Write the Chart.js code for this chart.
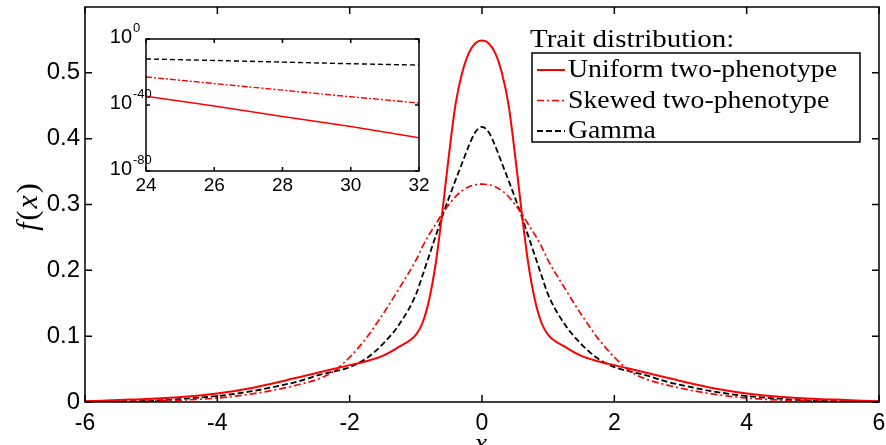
<!DOCTYPE html>
<html lang="en">
<head>
    <meta charset="UTF-8">
    <title>Trait distribution</title>
    <script src="https://cdn.jsdelivr.net/npm/chart.js"></script>
    <style>
        body {
            margin: 0;
            background: #fff;
        }

        .wrap {
            position: relative;
            width: 886px;
            height: 445px;
            overflow: hidden;
        }

        #inset {
            position: absolute;
            left: 95px;
            top: 15px;
        }
    </style>
</head>
<body>
    <div class="wrap">
        <canvas id="chart" width="886" height="445"></canvas>
        <canvas id="inset" width="335" height="185"></canvas>
    </div>

    <script>
        // main panel data
        const xValues = [-6, -5.5, -5, -4.5, -4, -3.5, -3, -2.75, -2.5, -2.25, -2, -1.75, -1.5, -1.25, -1,
            -0.9, -0.8, -0.7, -0.6, -0.5, -0.4, -0.3, -0.2, -0.1, 0,
            0.1, 0.2, 0.3, 0.4, 0.5, 0.6, 0.7, 0.8, 0.9,
            1, 1.25, 1.5, 1.75, 2, 2.25, 2.5, 2.75, 3, 3.5, 4, 4.5, 5, 5.5, 6];

        const uniformTwo = [0.001, 0.003, 0.005, 0.008, 0.013, 0.021, 0.032, 0.038, 0.044, 0.05, 0.056, 0.062, 0.07, 0.084, 0.102,
            0.12, 0.155, 0.21, 0.288, 0.375, 0.452, 0.5, 0.53, 0.545, 0.549,
            0.545, 0.53, 0.5, 0.452, 0.375, 0.288, 0.21, 0.155, 0.12,
            0.102, 0.084, 0.07, 0.062, 0.056, 0.05, 0.044, 0.038, 0.032, 0.021, 0.013, 0.008, 0.005, 0.003, 0.001];

        const skewedTwo = [0.0003, 0.0007, 0.0015, 0.003, 0.006, 0.012, 0.021, 0.027, 0.034, 0.046, 0.068, 0.097, 0.133, 0.173, 0.215,
            0.236, 0.254, 0.27, 0.286, 0.3, 0.312, 0.321, 0.327, 0.33, 0.331,
            0.33, 0.327, 0.321, 0.312, 0.3, 0.286, 0.27, 0.254, 0.236,
            0.215, 0.173, 0.133, 0.097, 0.068, 0.046, 0.034, 0.027, 0.021, 0.012, 0.006, 0.003, 0.0015, 0.0007, 0.0003];

        const gammaDist = [0.0005, 0.001, 0.002, 0.005, 0.009, 0.016, 0.026, 0.032, 0.04, 0.046, 0.053, 0.066, 0.088, 0.118, 0.163,
            0.192, 0.222, 0.252, 0.282, 0.31, 0.337, 0.363, 0.389, 0.41, 0.418,
            0.41, 0.389, 0.363, 0.337, 0.31, 0.282, 0.252, 0.222, 0.192,
            0.163, 0.118, 0.088, 0.066, 0.053, 0.046, 0.04, 0.032, 0.026, 0.016, 0.009, 0.005, 0.002, 0.001, 0.0005];

        const xTicks = [-6, -4, -2, 0, 2, 4, 6];
        const yTicks = [0, 0.1, 0.2, 0.3, 0.4, 0.5];

        // inset (tail, log scale)
        const insetX = [24, 26, 28, 30, 32];
        const insetUniform = [2e-35, 2.5e-41, 1e-47, 1e-53, 1.6e-60];
        const insetSkewed = [1e-23, 1e-27, 1e-31, 1e-35, 1.6e-39];
        const insetGamma = [8e-13, 1e-13, 1e-14, 1e-15, 1.6e-16];
        const insetXTicks = [24, 26, 28, 30, 32];
        const insetYExp = [0, -40, -80];

        const labels = ["Uniform two-phenotype", "Skewed two-phenotype", "Gamma"];
        const legendTitle = "Trait distribution:";

        const sansFont = "'Liberation Sans', Arial, sans-serif";
        const serifFont = "'Liberation Serif', 'Times New Roman', serif";

        function points(xs, ys) {
            return xs.map((x, i) => ({ x: x, y: ys[i] }));
        }

        // the latex font is wider than Times, so stretch text a bit
        function wideText(c, text, x, y, k) {
            c.save();
            c.translate(x, y);
            c.scale(k, 1);
            c.fillText(text, 0, 0);
            c.restore();
        }

        // box around the plot area plus inward ticks on all four sides
        function framePlugin(tickLen) {
            return {
                id: "frame",
                afterDatasetsDraw(chart) {
                    const c = chart.ctx;
                    const a = chart.chartArea;
                    c.save();
                    c.strokeStyle = "#000";
                    c.lineWidth = 1.5;
                    c.strokeRect(a.left, a.top, a.right - a.left, a.bottom - a.top);
                    c.beginPath();
                    chart.scales.x.ticks.forEach(t => {
                        const px = chart.scales.x.getPixelForValue(t.value);
                        c.moveTo(px, a.bottom); c.lineTo(px, a.bottom - tickLen);
                        c.moveTo(px, a.top); c.lineTo(px, a.top + tickLen);
                    });
                    chart.scales.y.ticks.forEach(t => {
                        const py = chart.scales.y.getPixelForValue(t.value);
                        c.moveTo(a.left, py); c.lineTo(a.left + tickLen, py);
                        c.moveTo(a.right, py); c.lineTo(a.right - tickLen, py);
                    });
                    c.stroke();
                    c.restore();
                }
            };
        }

        const legendPlugin = {
            id: "boxLegend",
            afterDraw(chart) {
                const c = chart.ctx;
                c.save();
                c.fillStyle = "#000";
                c.font = "25px " + serifFont;
                c.textBaseline = "alphabetic";
                wideText(c, legendTitle, 530, 47, 1.16);
                c.fillStyle = "#fff";
                c.fillRect(532, 53, 328, 89);
                c.strokeStyle = "#000";
                c.lineWidth = 1.5;
                c.strokeRect(532, 53, 328, 89);
                chart.data.datasets.forEach((ds, i) => {
                    const base = 77 + i * 30.5;
                    c.strokeStyle = ds.borderColor;
                    c.lineWidth = ds.borderWidth;
                    c.setLineDash(ds.borderDash || []);
                    c.beginPath();
                    c.moveTo(537, base - 7);
                    c.lineTo(565, base - 7);
                    c.stroke();
                    c.setLineDash([]);
                    c.fillStyle = "#000";
                    wideText(c, ds.label, 568, base, 1.11);
                });
                c.restore();
            }
        };

        const axisTitlePlugin = {
            id: "axisTitles",
            afterDraw(chart) {
                const c = chart.ctx;
                const parts = [["f", true], ["(", false], ["x", true], [")", false]];
                const gap = 2;
                c.save();
                c.fillStyle = "#000";
                c.textBaseline = "alphabetic";
                let total = 0;
                parts.forEach(p => {
                    c.font = (p[1] ? "italic " : "") + "30px " + serifFont;
                    p.push(c.measureText(p[0]).width);
                    total += p[2] + gap;
                });
                c.translate(37, 206);
                c.rotate(-Math.PI / 2);
                let cx = -total / 2;
                parts.forEach(p => {
                    c.font = (p[1] ? "italic " : "") + "30px " + serifFont;
                    c.fillText(p[0], cx, 0);
                    cx += p[2] + gap;
                });
                c.restore();

                c.save();
                c.fillStyle = "#000";
                c.font = "italic 28px " + serifFont;
                c.textAlign = "center";
                c.textBaseline = "alphabetic";
                c.fillText("x", 481, 452);
                c.restore();
            }
        };

        const mainCtx = document.getElementById("chart").getContext("2d");
        const chart = new Chart(mainCtx, {
            type: "line",
            data: {
                datasets: [
                    {
                        label: labels[0],
                        data: points(xValues, uniformTwo),
                        borderColor: "#ff0000",
                        borderWidth: 2,
                        cubicInterpolationMode: "monotone",
                    },
                    {
                        label: labels[1],
                        data: points(xValues, skewedTwo),
                        borderColor: "#ff0000",
                        borderWidth: 1.7,
                        borderDash: [7, 3, 2, 3],
                        cubicInterpolationMode: "monotone",
                    },
                    {
                        label: labels[2],
                        data: points(xValues, gammaDist),
                        borderColor: "#000000",
                        borderWidth: 1.8,
                        borderDash: [6, 3],
                        cubicInterpolationMode: "monotone",
                    },
                ],
            },
            options: {
                responsive: false,
                animation: false,
                layout: { padding: { top: 7, right: 7, left: 0, bottom: 0 } },
                elements: { point: { radius: 0 } },
                plugins: {
                    legend: { display: false },
                    tooltip: { enabled: false },
                },
                scales: {
                    x: {
                        type: "linear",
                        min: -6,
                        max: 6,
                        grid: { display: false, drawTicks: false },
                        border: { display: false },
                        afterBuildTicks: s => { s.ticks = xTicks.map(v => ({ value: v })); },
                        ticks: {
                            color: "#000",
                            padding: 8,
                            maxRotation: 0,
                            font: { family: sansFont, size: 23 },
                            callback: v => String(v),
                        },
                        afterFit: s => {
                            s.height = 43;
                            s.paddingLeft = 0; s.paddingRight = 0;
                        },
                    },
                    y: {
                        min: 0,
                        max: 0.6,
                        grid: { display: false, drawTicks: false },
                        border: { display: false },
                        afterBuildTicks: s => { s.ticks = yTicks.map(v => ({ value: v })); },
                        ticks: {
                            color: "#000",
                            padding: 5,
                            font: { family: sansFont, size: 24 },
                            callback: v => (v === 0 ? "0" : v.toFixed(1)),
                        },
                        afterFit: s => {
                            s.width = 85;
                            s.paddingTop = 0; s.paddingBottom = 0;
                        },
                    },
                },
            },
            plugins: [framePlugin(7), legendPlugin, axisTitlePlugin],
        });

        // inset: powers of ten drawn with raised exponents
        const insetLabelPlugin = {
            id: "insetLabels",
            afterDraw(ch) {
                const c = ch.ctx;
                const a = ch.chartArea;
                c.save();
                c.fillStyle = "#000";
                c.textBaseline = "middle";
                insetYExp.forEach(e => {
                    const py = ch.scales.y.getPixelForValue(Math.pow(10, e));
                    c.font = "20px " + sansFont;
                    c.textAlign = "right";
                    c.fillText("10", a.left - 14, py - 2);
                    c.font = "13px " + sansFont;
                    c.textAlign = "left";
                    c.fillText(String(e), a.left - 13, py - 11);
                });
                c.restore();
            }
        };

        const insetCtx = document.getElementById("inset").getContext("2d");
        new Chart(insetCtx, {
            type: "line",
            data: {
                datasets: [
                    {
                        data: points(insetX, insetUniform),
                        borderColor: "#ff0000",
                        borderWidth: 1.5,
                    },
                    {
                        data: points(insetX, insetSkewed),
                        borderColor: "#ff0000",
                        borderWidth: 1.4,
                        borderDash: [6, 2, 2, 2],
                    },
                    {
                        data: points(insetX, insetGamma),
                        borderColor: "#000000",
                        borderWidth: 1.4,
                        borderDash: [5, 3],
                    },
                ],
            },
            options: {
                responsive: false,
                animation: false,
                layout: { padding: { top: 24, right: 11, left: 0, bottom: 0 } },
                elements: { point: { radius: 0 }, line: { tension: 0 } },
                plugins: {
                    legend: { display: false },
                    tooltip: { enabled: false },
                },
                scales: {
                    x: {
                        type: "linear",
                        min: 24,
                        max: 32,
                        grid: { display: false, drawTicks: false },
                        border: { display: false },
                        afterBuildTicks: s => { s.ticks = insetXTicks.map(v => ({ value: v })); },
                        ticks: {
                            color: "#000",
                            padding: 3,
                            maxRotation: 0,
                            font: { family: sansFont, size: 19 },
                        },
                        afterFit: s => {
                            s.height = 29;
                            s.paddingLeft = 0; s.paddingRight = 0;
                        },
                    },
                    y: {
                        type: "logarithmic",
                        min: 1e-80,
                        max: 1,
                        grid: { display: false, drawTicks: false },
                        border: { display: false },
                        afterBuildTicks: s => { s.ticks = insetYExp.map(e => ({ value: Math.pow(10, e) })); },
                        ticks: { display: false },
                        afterFit: s => {
                            s.width = 51;
                            s.paddingTop = 0; s.paddingBottom = 0;
                        },
                    },
                },
            },
            plugins: [framePlugin(4), insetLabelPlugin],
        });
    </script>
</body>
</html>
